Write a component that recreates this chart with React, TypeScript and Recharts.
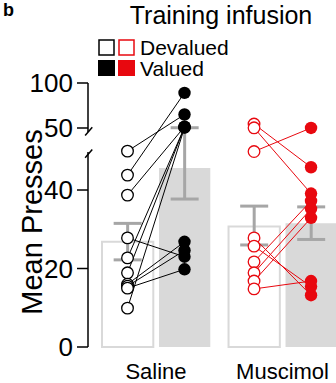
import React from 'react';
import {
  ComposedChart,
  Bar,
  Cell,
  ErrorBar,
  Line,
  Scatter,
  XAxis,
  YAxis,
  ReferenceLine,
} from 'recharts';

// ---- data -------------------------------------------------------------
const groups = ['Saline', 'Muscimol'];
const conditions = ['Devalued', 'Valued'];

// group means with the lower / upper end of the error bar (presses)
const salineMeans = [26.8, 45.6];
const salineLow = [22.2, 37.7];
const salineHigh = [31.5, 50.3];
const muscimolMeans = [30.7, 31.5];
const muscimolLow = [26.0, 27.4];
const muscimolHigh = [35.9, 35.7];

// individual animals, paired by index (devalued -> valued)
const salineDevalued = [49.9, 43.8, 38.7, 27.8, 22.7, 18.9, 16.0, 15.5, 15.0, 9.9];
const salineValued = [65, 89, 51.4, 23.0, 50.8, 51.1, 26.8, 24.6, 19.8, 50.4];
const muscimolDevalued = [54.4, 50.2, 49.8, 27.8, 25.7, 21.7, 18.9, 16.8, 14.8];
const muscimolValued = [45.8, 39.1, 50.05, 13.2, 15.4, 37.2, 35.2, 32.9, 16.8];

const lowerTicks = [0, 20, 40];
const upperTicks = [50, 100];

// ---- broken y axis ------------------------------------------------------
const LOWER_MAX = 50; // top of the linear lower segment
const UPPER_BASE = 55.8; // where the upper segment's 50 sits on the display scale
const UPPER_SCALE = 0.2293; // upper segment is compressed
const upperDisplay = (v: number) => UPPER_BASE + (v - LOWER_MAX) * UPPER_SCALE;
const toDisplay = (v: number) => (v <= LOWER_MAX ? v : upperDisplay(v));
const Y_TOP = upperDisplay(upperTicks[upperTicks.length - 1]);

const tickValues = [...lowerTicks, ...upperTicks.map(upperDisplay)];
const tickLabels = [...lowerTicks, ...upperTicks].map(String);
const formatTick = (v: number) => {
  const i = tickValues.findIndex((t) => Math.abs(t - v) < 1e-6);
  return i >= 0 ? tickLabels[i] : '';
};

// axis-line pieces around the break (display units)
const AXIS_LOWER_TOP = 49.7;
const AXIS_UPPER_BOTTOM = 54.8;
const SLASH_DX = [-0.05, 0.075];
const SLASHES = [
  [48.2, 50.3],
  [53.9, 56.0],
];

// ---- x layout ------------------------------------------------------------
const GROUP_GAP = 0.22;
const X_MIN = 0.307;
const X_MAX = 4.658;
const xPos = (g: number, c: number) => 1 + g * (2 + GROUP_GAP) + c;
const groupCenter = (g: number) => xPos(g, 0) + 0.5;

const RED = '#e8080f';
const BAR_GREY = '#d9d9d9';
const ERR_GREY = '#a6a6a6';
const FONT = '"Liberation Sans", Arial, Helvetica, sans-serif';

const means = [salineMeans, muscimolMeans];
const lows = [salineLow, muscimolLow];
const highs = [salineHigh, muscimolHigh];

const bars = groups.flatMap((_, g) =>
  conditions.map((_c, c) => {
    const m = toDisplay(means[g][c]);
    return {
      x: xPos(g, c),
      y: m,
      err: [m - toDisplay(lows[g][c]), toDisplay(highs[g][c]) - m],
      valued: c === 1,
    };
  })
);

const pairs = [
  { g: 0, dev: salineDevalued, val: salineValued, color: '#000' },
  { g: 1, dev: muscimolDevalued, val: muscimolValued, color: RED },
];

const openDot = (color: string) => (p: any) =>
  <circle cx={p.cx} cy={p.cy} r={5.8} fill="#fff" stroke={color} strokeWidth={1.3} />;
const filledDot = (color: string) => (p: any) =>
  <circle cx={p.cx} cy={p.cy} r={6.2} fill={color} stroke="none" />;

const AxisTitle = (props: any) => {
  const vb = props.viewBox;
  const x = vb.x + 42;
  const y = vb.y + vb.height / 2 + 7;
  return (
    <text
      x={x}
      y={y}
      transform={`rotate(-90, ${x}, ${y})`}
      textAnchor="middle"
      fontSize={29}
      fontFamily={FONT}
      fill="#000"
    >
      Mean Presses
    </text>
  );
};

export default function App() {
  return (
    <div style={{ position: 'absolute', left: 0, top: 0, width: 336, height: 383, background: '#fff' }}>
      <ComposedChart
        width={336}
        height={383}
        data={bars}
        margin={{ top: 83, right: 0, bottom: 0, left: 0 }}
      >
        <XAxis
          dataKey="x"
          type="number"
          domain={[X_MIN, X_MAX]}
          allowDataOverflow
          ticks={groups.map((_, g) => groupCenter(g))}
          tickFormatter={(v: number) => groups[Math.round((v - 1.5) / (2 + GROUP_GAP))] ?? ''}
          axisLine={false}
          tickLine={false}
          tickSize={0}
          tickMargin={16}
          height={36}
          interval={0}
          tick={{ fill: '#000', fontSize: 22, fontFamily: FONT }}
        />
        <YAxis
          dataKey="y"
          type="number"
          domain={[0, Y_TOP]}
          ticks={tickValues}
          tickFormatter={formatTick}
          interval={0}
          width={88}
          axisLine={false}
          tickSize={11}
          tickMargin={4}
          tickLine={{ stroke: '#000', strokeWidth: 1.5 }}
          tick={{ fill: '#000', fontSize: 26, fontFamily: FONT }}
          label={{ content: AxisTitle }}
        />

        <Bar dataKey="y" barSize={57} isAnimationActive={false} legendType="none">
          {bars.map((b, i) => (
            <Cell
              key={i}
              fill={b.valued ? BAR_GREY : '#fff'}
              stroke={b.valued ? 'none' : BAR_GREY}
              strokeWidth={2}
            />
          ))}
          <ErrorBar dataKey="err" direction="y" width={14} stroke={ERR_GREY} strokeWidth={3} />
        </Bar>

        {/* broken axis line */}
        <ReferenceLine
          segment={[{ x: X_MIN, y: 0 }, { x: X_MIN, y: AXIS_LOWER_TOP }]}
          stroke="#000"
          strokeWidth={1.5}
          ifOverflow="visible"
        />
        <ReferenceLine
          segment={[{ x: X_MIN, y: AXIS_UPPER_BOTTOM }, { x: X_MIN, y: Y_TOP }]}
          stroke="#000"
          strokeWidth={1.5}
          ifOverflow="visible"
        />
        {SLASHES.map(([y0, y1], i) => (
          <ReferenceLine
            key={'slash' + i}
            segment={[{ x: X_MIN + SLASH_DX[0], y: y0 }, { x: X_MIN + SLASH_DX[1], y: y1 }]}
            stroke="#000"
            strokeWidth={1.5}
            ifOverflow="visible"
          />
        ))}

        {/* paired lines per animal */}
        {pairs.flatMap((p) =>
          p.dev.map((d, i) => (
            <Line
              key={`l${p.g}-${i}`}
              data={[
                { x: xPos(p.g, 0), y: toDisplay(d) },
                { x: xPos(p.g, 1), y: toDisplay(p.val[i]) },
              ]}
              dataKey="y"
              type="linear"
              stroke={p.color}
              strokeWidth={1}
              dot={false}
              activeDot={false}
              legendType="none"
              isAnimationActive={false}
            />
          ))
        )}

        {pairs.map((p) => (
          <Scatter
            key={`o${p.g}`}
            data={p.dev.map((d) => ({ x: xPos(p.g, 0), y: toDisplay(d) }))}
            shape={openDot(p.color)}
            legendType="none"
            isAnimationActive={false}
          />
        ))}
        {pairs.map((p) => (
          <Scatter
            key={`f${p.g}`}
            data={p.val.map((d) => ({ x: xPos(p.g, 1), y: toDisplay(d) }))}
            shape={filledDot(p.color)}
            legendType="none"
            isAnimationActive={false}
          />
        ))}
      </ComposedChart>

      {/* panel letter, title and legend */}
      <svg width={336} height={80} style={{ position: 'absolute', left: 0, top: 0 }}>
        <text x={3} y={16} fontSize={18} fontWeight="bold" fontFamily={FONT} fill="#000">b</text>
        <text x={221} y={24} fontSize={25} textAnchor="middle" fontFamily={FONT} fill="#000">
          Training infusion
        </text>
        <rect x={99} y={40} width={15} height={15} fill="#fff" stroke="#000" strokeWidth={1.5} />
        <rect x={119} y={40} width={15} height={15} fill="#fff" stroke={RED} strokeWidth={1.5} />
        <rect x={98} y={60} width={17} height={16} fill="#000" />
        <rect x={118} y={60} width={17} height={16} fill={RED} />
        <text x={140} y={55} fontSize={21} fontFamily={FONT} fill="#000">{conditions[0]}</text>
        <text x={140} y={76} fontSize={21} fontFamily={FONT} fill="#000">{conditions[1]}</text>
      </svg>
    </div>
  );
}
